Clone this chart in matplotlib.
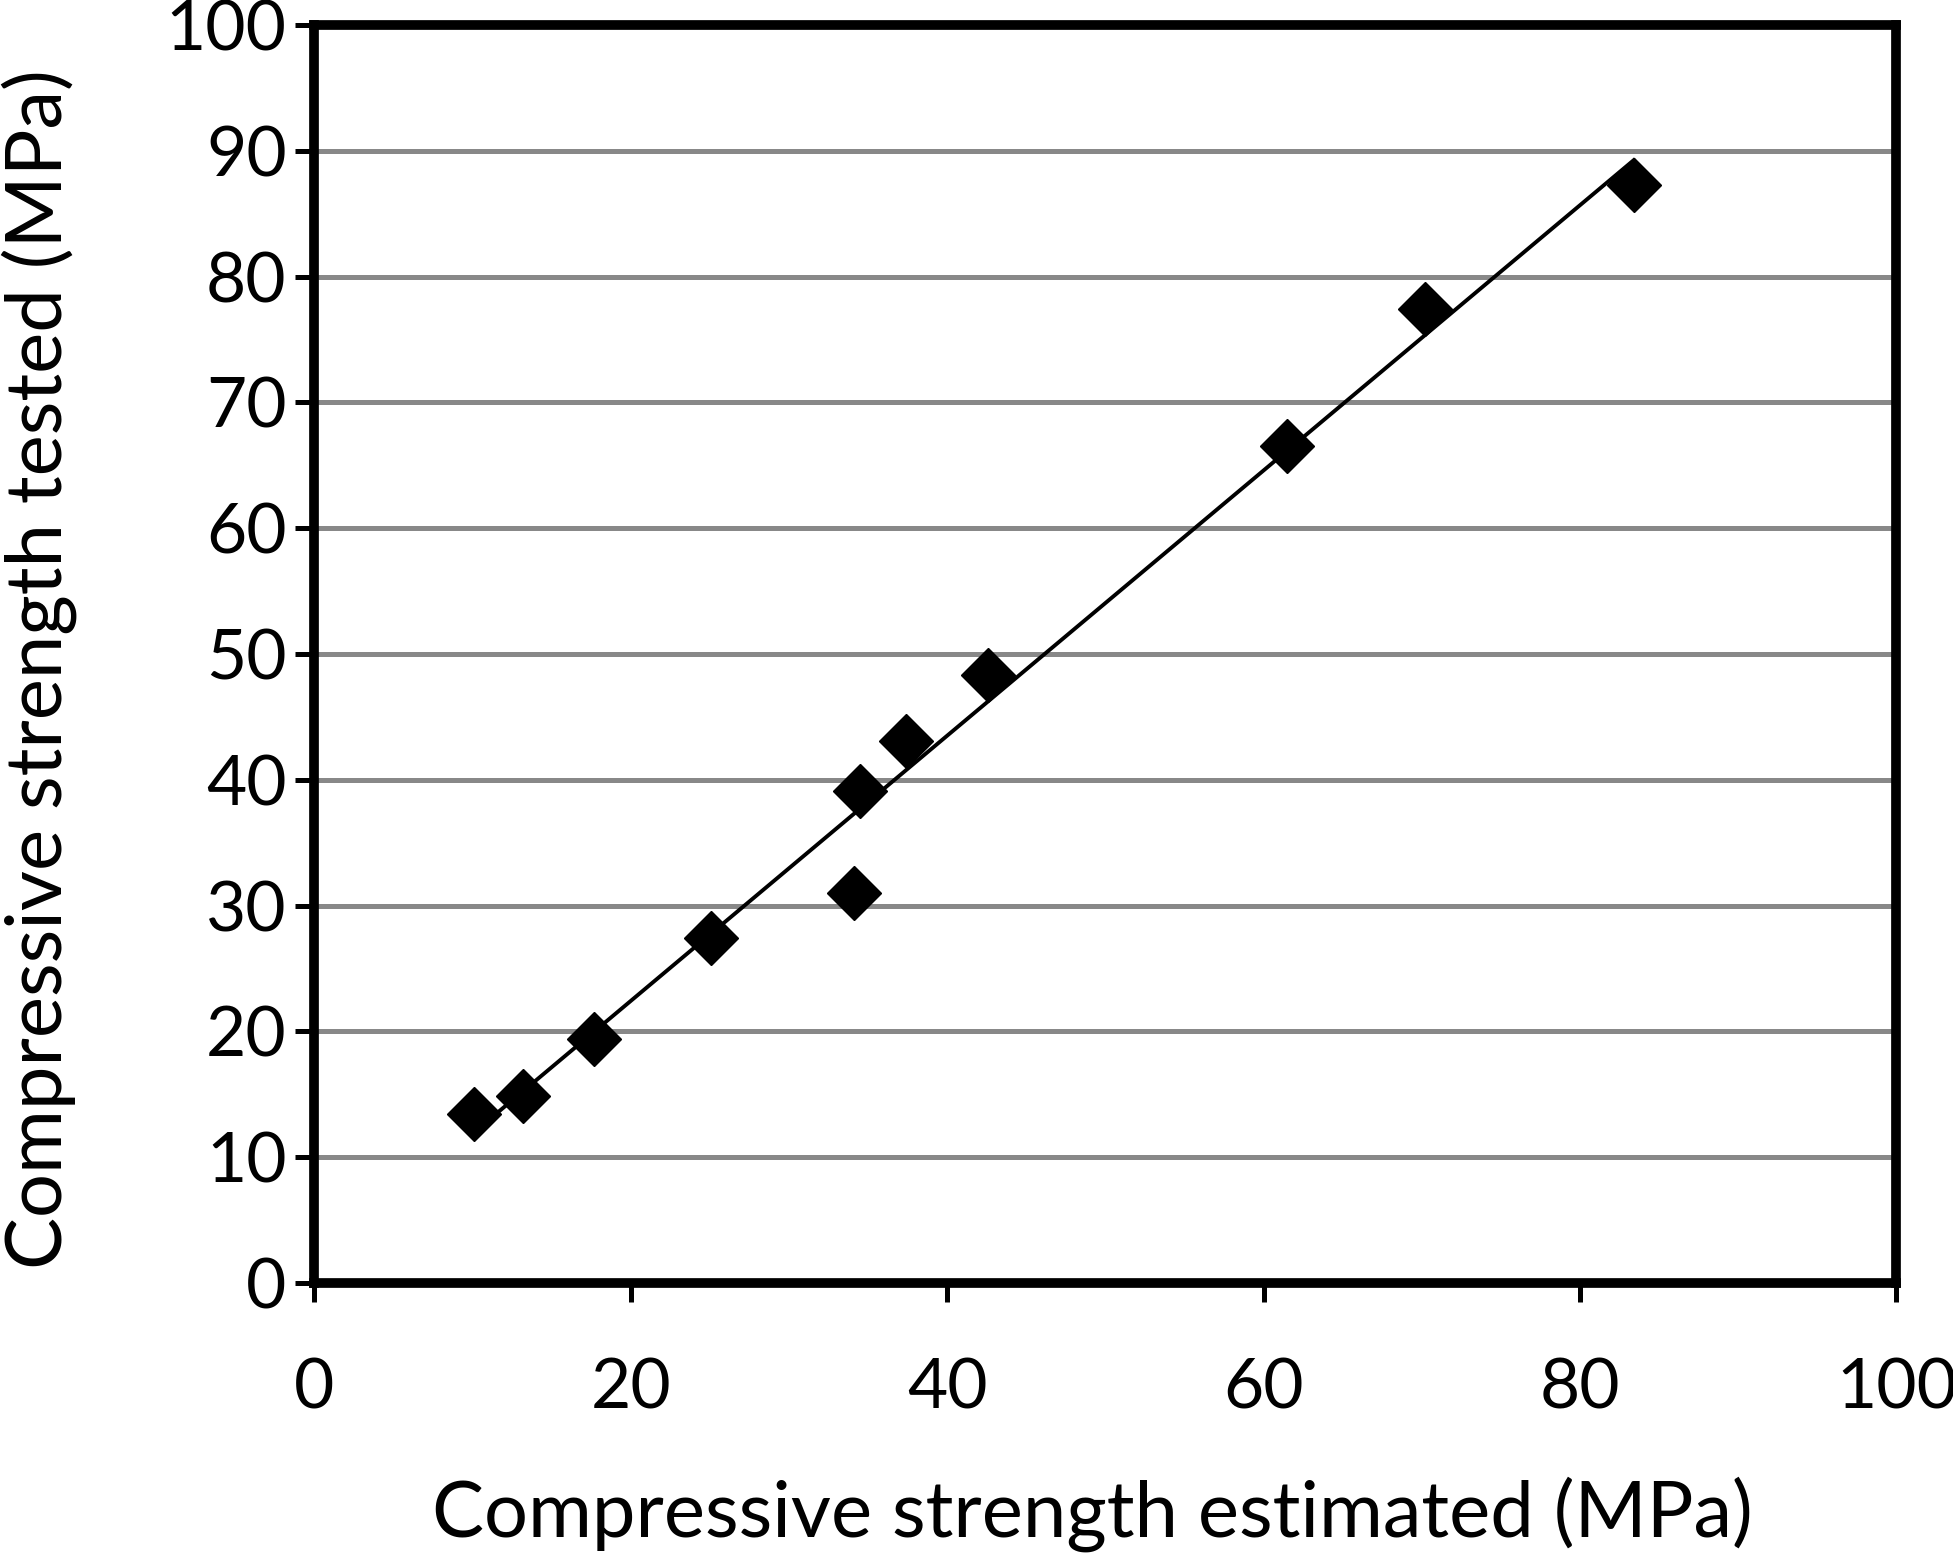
import numpy as np
from matplotlib import pyplot as plt

# estimated vs tested compressive strength (MPa)
estimated = [10.1, 13.2, 17.7, 25.1, 34.1, 34.5, 37.4, 42.6, 61.5, 70.2, 83.4]
tested = [13.4, 14.9, 19.4, 27.4, 31.0, 39.1, 43.1, 48.3, 66.5, 77.4, 87.3]

x_ticks = [0, 20, 40, 60, 80, 100]
y_ticks = [0, 10, 20, 30, 40, 50, 60, 70, 80, 90, 100]

plt.rcParams["font.family"] = ["Lato", "DejaVu Sans"]

fig = plt.figure(figsize=(19.53, 15.57), dpi=100)
ax = fig.add_axes([0.161, 0.176, 0.810, 0.808])

# linear trend line over the data range
k, b = np.polyfit(estimated, tested, 1)
xs = np.array([min(estimated), max(estimated)])
ax.plot(xs, k * xs + b, color="black", lw=2.8, zorder=3)
ax.plot(estimated, tested, "D", color="black", ms=28, mew=1, zorder=4)

ax.set_xlim(0, 100)
ax.set_ylim(0, 100)
ax.set_xticks(x_ticks)
ax.set_yticks(y_ticks)
ax.yaxis.grid(True, color="#888888", lw=3.6)
ax.set_axisbelow(True)

for s in ax.spines.values():
    s.set_linewidth(7)
ax.tick_params(axis="both", length=14, width=3.6, labelsize=50, direction="out")
ax.tick_params(axis="x", pad=40)
ax.tick_params(axis="y", pad=6)

ax.set_xlabel("Compressive strength estimated (MPa)", fontsize=56, va="center")
ax.set_ylabel("Compressive strength tested (MPa)", fontsize=56, va="center")
ax.xaxis.set_label_coords(0.492, -0.184)
ax.yaxis.set_label_coords(-0.174, 0.488)

fig.savefig("out.png", dpi=100)
